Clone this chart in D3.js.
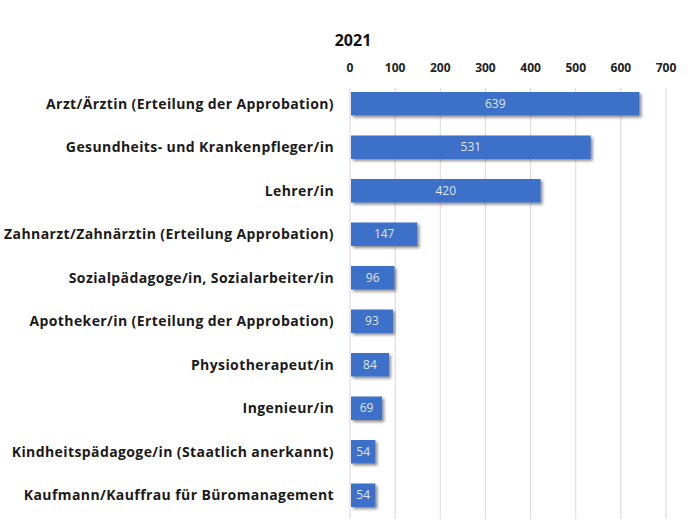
<!DOCTYPE html>
<html>
<head>
<meta charset="utf-8">
<script src="https://cdn.jsdelivr.net/npm/d3@7"></script>
<style>
  body { margin: 0; background: #fff; }
  svg { font-family: "Open Sans", Lato, sans-serif; }
</style>
</head>
<body>
<svg width="693" height="526"></svg>
<script>
const title = '2021';
const categories = [
  'Arzt/Ärztin (Erteilung der Approbation)',
  'Gesundheits- und Krankenpfleger/in',
  'Lehrer/in',
  'Zahnarzt/Zahnärztin (Erteilung Approbation)',
  'Sozialpädagoge/in, Sozialarbeiter/in',
  'Apotheker/in (Erteilung der Approbation)',
  'Physiotherapeut/in',
  'Ingenieur/in',
  'Kindheitspädagoge/in (Staatlich anerkannt)',
  'Kaufmann/Kauffrau für Büromanagement'
];
const values = [639, 531, 420, 147, 96, 93, 84, 69, 54, 54];
const ticks = [0, 100, 200, 300, 400, 500, 600, 700];

const svg = d3.select('svg');

const defs = svg.append('defs');
const shadow = defs.append('filter').attr('id', 'shadow')
  .attr('x', '-10%').attr('y', '-30%').attr('width', '130%').attr('height', '180%');
shadow.append('feDropShadow')
  .attr('dx', 2).attr('dy', 2).attr('stdDeviation', 1.5)
  .attr('flood-color', '#000').attr('flood-opacity', 0.45);

const xScale = d3.scaleLinear()
  .domain([0, 700])
  .range([350, 666]);

const yScale = d3.scaleBand()
  .domain(categories)
  .range([82, 517])
  .paddingInner(0.46)
  .paddingOuter(0.23);

// gridlines
svg.append('g')
  .selectAll('line')
  .data(ticks)
  .enter()
  .append('line')
    .attr('x1', (d) => xScale(d))
    .attr('x2', (d) => xScale(d))
    .attr('y1', 88)
    .attr('y2', 519)
    .attr('stroke', '#e3dcdc')
    .attr('stroke-width', 1.2);

// top axis labels
svg.append('g')
  .selectAll('text')
  .data(ticks)
  .enter()
  .append('text')
    .attr('x', (d) => xScale(d))
    .attr('y', 72)
    .attr('text-anchor', 'middle')
    .attr('font-size', 12)
    .attr('font-weight', 'bold')
    .attr('fill', '#222')
    .text((d) => d);

svg.append('text')
  .attr('x', 353)
  .attr('y', 46)
  .attr('text-anchor', 'middle')
  .attr('font-size', 16)
  .attr('font-weight', 'bold')
  .attr('fill', '#111')
  .text(title);

// category labels
svg.append('g')
  .selectAll('text')
  .data(categories)
  .enter()
  .append('text')
    .attr('x', 334)
    .attr('y', (d) => yScale(d) + yScale.bandwidth() / 2)
    .attr('dy', '0.35em')
    .attr('text-anchor', 'end')
    .attr('font-size', 14)
    .attr('letter-spacing', 0.4)
    .attr('font-weight', 'bold')
    .attr('fill', '#1a1a1a')
    .text((d) => d);

// bars
svg.append('g')
  .selectAll('rect')
  .data(values)
  .enter()
  .append('rect')
    .attr('x', xScale(0) + 1)
    .attr('y', (d, i) => yScale(categories[i]))
    .attr('width', (d) => xScale(d) - xScale(0))
    .attr('height', yScale.bandwidth())
    .attr('fill', '#3e6fc8')
    .attr('filter', 'url(#shadow)');

// value labels
svg.append('g')
  .selectAll('text')
  .data(values)
  .enter()
  .append('text')
    .attr('x', (d) => (xScale(0) + xScale(d)) / 2 + 1)
    .attr('y', (d, i) => yScale(categories[i]) + yScale.bandwidth() / 2)
    .attr('dy', '0.35em')
    .attr('text-anchor', 'middle')
    .attr('font-size', 12)
    .attr('fill', '#dfe6f5')
    .text((d) => d);
</script>
</body>
</html>
